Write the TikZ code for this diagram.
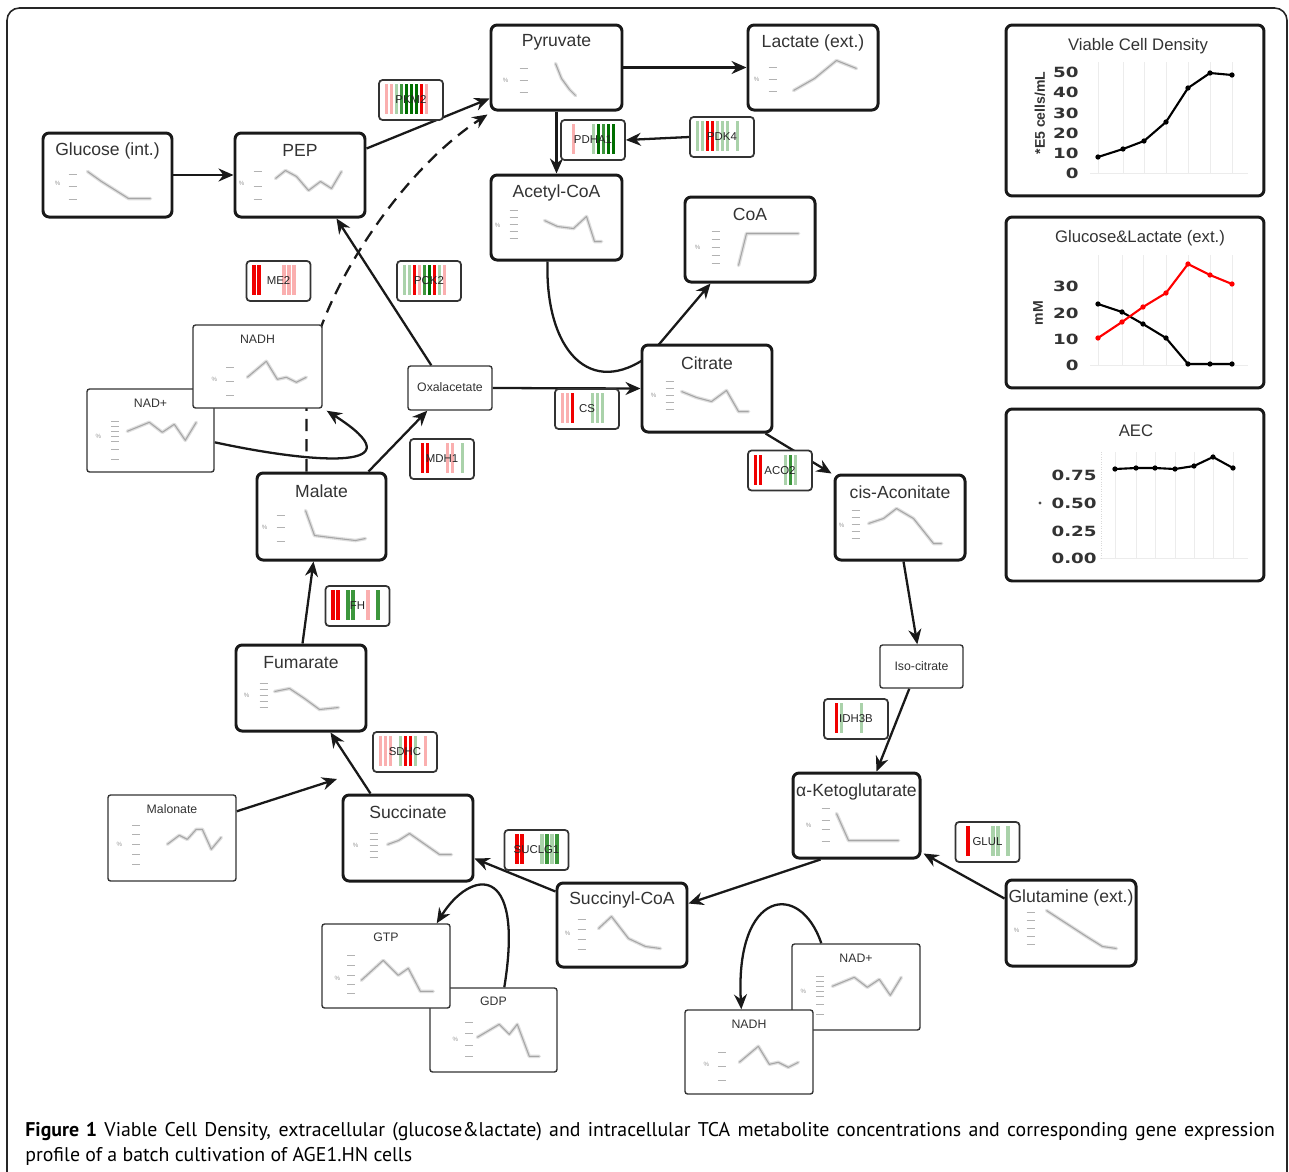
\documentclass[tikz,border=0pt]{standalone}
\usepackage{fontspec}
\setmainfont{Liberation Sans}
\newfontfamily\capfont{PT Sans}
\newfontfamily\numfont{DejaVu Sans}
\usepackage{graphicx}
\usetikzlibrary{arrows.meta,calc}
\pgfdeclarelayer{bgl}
\pgfdeclarelayer{edges}
\pgfsetlayers{bgl,edges,main}
\definecolor{rd}{RGB}{240,0,0}
\definecolor{lr}{RGB}{250,175,175}
\definecolor{dg}{RGB}{0,110,0}
\definecolor{gn}{RGB}{60,150,60}
\definecolor{lg}{RGB}{170,210,170}
\colorlet{wt}{white}
\tikzset{
  metab/.style={draw=black!90, line width=1.7pt, rounded corners=3.5pt, fill=white, inner sep=0pt},
  thin/.style={draw=black!80, line width=0.8pt, rounded corners=1.5pt, fill=white, inner sep=0pt},
  metabttl/.style={font=\fontsize{10}{12}\selectfont, text=black!80, inner sep=0pt},
  thinttl/.style={font=\fontsize{7}{8}\selectfont, text=black!80, inner sep=0pt},
  genebox/.style={draw=black!80, line width=1pt, rounded corners=2pt, fill=white, minimum width=1.28cm, minimum height=0.8cm, inner sep=0pt},
  genelbl/.style={font=\fontsize{6.5}{7}\selectfont, text=black!85, inner sep=0pt},
  conn/.style={line width=1.3pt, draw=black!90, -{Stealth[length=3mm,width=2.6mm]}},
  dconn/.style={conn, dash pattern=on 7pt off 4.5pt},
  sband/.style={gray!25, line width=2pt, line join=round, line cap=round},
  sline/.style={gray!70, line width=0.6pt, line join=round},
  stick/.style={gray!60, line width=0.7pt},
  pct/.style={font=\fontsize{3.5}{4}\selectfont, text=gray!80, inner sep=0pt},
  charttl/.style={font=\fontsize{9.5}{11}\selectfont, text=black!80, inner sep=0pt},
  numlbl/.style={font=\numfont\bfseries\fontsize{8}{9}\selectfont, text=black!80, inner sep=0pt},
  ylbl/.style={font=\bfseries\fontsize{8}{9}\selectfont, text=black!80, inner sep=0pt},
  gridl/.style={gray!15, line width=0.5pt},
  dat/.style={line width=1.2pt, line join=round},
}
\newcommand\metnode[7]{%
  \node[#1, minimum width=#4*0.02cm, minimum height=#5*0.02cm] (#2) at (#3) {};
  \node[#1ttl] (#2-t) at ($(#2.north)+(0,#7)$) {#6};}
\newcommand\sparkl[5]{%
  \begin{scope}[shift={(#1.north west)}]
    \draw[sband] #2;
    \draw[sline] #2;
    \foreach \t in {#4} \draw[stick] (#3,\t) -- ++(8,0);
    \node[pct] (#1-pct) at (#5) {\%};
  \end{scope}}
\newcommand\genenode[4]{%
  \node[genebox] (#1) at (#2) {};
  \begin{scope}[shift={(#1.north west)}]
    \foreach \c [count=\i] in {#4} \fill[\c] ({1.5+5*\i},5) rectangle ({5+5*\i},35);
  \end{scope}
  \node[genelbl] (#1-t) at (#1) {#3};}

\begin{document}
\begin{tikzpicture}[x=0.02cm,y=-0.02cm]
\useasboundingbox (0,0) rectangle (1289,1171);
\begin{pgfonlayer}{bgl}
  \fill[white] (0,0) rectangle (1289,1171);
  \begin{scope}
    \clip (0,0) rectangle (1289,1171);
    \draw[black!85, line width=0.9pt, rounded corners=7pt] (7,8) rectangle (1287,1260);
  \end{scope}
\end{pgfonlayer}

% metabolites
\metnode{metab}{glc}{107.5,175}{129}{84}{Glucose (int.)}{19}
\sparkl{glc}{(46,40) -- (60,50) -- (87,67) -- (109,67)}{27}{43,55,68}{16,52}
\metnode{metab}{pep}{300,175}{130}{84}{PEP}{19}
\sparkl{pep}{(42,47) -- (52,39) -- (63,45) -- (75,59) -- (87,50) -- (98,57) -- (108,40)}{20}{40,55,68}{8,52}
\metnode{metab}{pyr}{556.5,67.5}{131}{85}{Pyruvate}{19}
\sparkl{pyr}{(66,40) -- (72,55) -- (80,66) -- (86,72)}{30}{45,57,69}{16,57}
\metnode{metab}{lac}{813,67.5}{130}{85}{Lactate (ext.)}{19}
\sparkl{lac}{(47,67) -- (68,55) -- (90,37) -- (110,45)}{22}{44,56,68}{10,56}
\metnode{metab}{acoa}{556.5,217.5}{131}{85}{Acetyl-CoA}{19}
\sparkl{acoa}{(55,47) -- (68,53) -- (84,55) -- (97,43) -- (105,68) -- (112,68)}{20}{37,44,51,58,65}{8,52}
\metnode{metab}{coa}{750,239.5}{130}{85}{CoA}{19}
\sparkl{coa}{(55,70) -- (63,38) -- (115,38)}{28}{36,44,52,60,68}{14,52}
\metnode{metab}{cit}{707,388.5}{130}{87}{Citrate}{20}
\sparkl{cit}{(41,48) -- (56,54) -- (71,58) -- (86,47) -- (98,68) -- (108,68)}{25}{38,45,52,59,66}{13,52}
\metnode{metab}{cis}{900,517.5}{130}{85}{cis-Aconitate}{19}
\sparkl{cis}{(35,50) -- (50,45) -- (63,35) -- (80,45) -- (100,70) -- (108,70)}{18}{37,44,51,58,65}{8,52}
\metnode{thin}{isocit}{921.5,666.5}{83}{43}{Iso-citrate}{21.5}
\metnode{metab}{akg}{856.5,815.5}{127}{85}{α-Ketoglutarate}{20}
\sparkl{akg}{(45,42) -- (57,69) -- (107,69)}{30}{37,49,58,70}{17,54}
\metnode{metab}{gln}{1071,923}{130}{86}{Glutamine (ext.)}{19}
\sparkl{gln}{(42,32) -- (62,45) -- (82,58) -- (98,68) -- (112,70)}{22}{34,42,50,58,66}{12,52}
\metnode{metab}{scoa}{622,925}{130}{84}{Succinyl-CoA}{18}
\sparkl{scoa}{(43,47) -- (56,35) -- (73,57) -- (90,65) -- (105,67)}{22}{38,48,58,68}{12,52}
\metnode{metab}{suc}{408,838}{130}{86}{Succinate}{19}
\sparkl{suc}{(46,51) -- (57,47) -- (68,40) -- (98,61) -- (110,61)}{28}{40,46,52,58,64}{14,52}
\metnode{metab}{fum}{301,688}{130}{86}{Fumarate}{19}
\sparkl{fum}{(40,48) -- (55,45) -- (70,55) -- (85,66) -- (104,64)}{25}{40,46,52,58,64}{12,52}
\metnode{metab}{mal}{321.5,516.5}{129}{87}{Malate}{20}
\sparkl{mal}{(50,39) -- (59,64) -- (83,67) -- (100,69) -- (110,67)}{21}{44,56,70}{9,56}
\metnode{thin}{oaa}{450,388}{84}{44}{Oxalacetate}{22}
\metnode{thin}{nad1}{150.5,430.5}{127}{83}{NAD+}{15}
\sparkl{nad1}{(41,43) -- (63,34) -- (76,44) -- (88,36) -- (99,52) -- (110,34)}{25}{33,38,43,48,53,61,71}{12,48}
\metnode{thin}{nadh1}{257.5,366.5}{129}{83}{NADH}{15}
\sparkl{nadh1}{(55,53) -- (74,37) -- (85,55) -- (94,53) -- (104,58) -- (114,53)}{34}{43,57,71}{22,55}
\metnode{thin}{malo}{172,838}{128}{86}{Malonate}{15}
\sparkl{malo}{(60,50) -- (72,41) -- (80,45) -- (89,35) -- (95,35) -- (104,55) -- (114,43)}{25}{31,40,50,60,70}{12,50}
\metnode{thin}{gdp}{493.5,1030}{127}{84}{GDP}{14}
\sparkl{gdp}{(48,50) -- (70,37) -- (80,47) -- (88,37) -- (100,69) -- (110,69)}{36}{35,46,58,69}{26,52}
\metnode{thin}{gtp}{386,966}{128}{84}{GTP}{14}
\sparkl{gtp}{(40,57) -- (62,37) -- (77,52) -- (87,45) -- (99,68) -- (112,68)}{26}{32,42,52,61,70}{16,55}
\metnode{thin}{nad2}{856,987}{128}{86}{NAD+}{15}
\sparkl{nad2}{(41,43) -- (63,34) -- (76,44) -- (88,36) -- (99,52) -- (110,34)}{25}{33,38,43,48,53,61,71}{12,48}
\metnode{thin}{nadh2}{749,1052}{128}{84}{NADH}{15}
\sparkl{nadh2}{(55,53) -- (74,37) -- (85,55) -- (94,53) -- (104,58) -- (114,53)}{34}{43,57,71}{22,55}

% gene expression boxes
\genenode{pkmA}{411,100}{PKM2}{lr,lr,lg,gn,dg,dg,dg,rd,lr,wt}
\genenode{pdha}{593,140}{PDHA1}{wt,lr,wt,wt,wt,lg,dg,gn,dg,dg}
\genenode{pdk4}{722,137}{PDK4}{lg,lg,rd,rd,lg,lg,lg,wt,lg,wt}
\genenode{me2}{278.5,281}{ME2}{rd,rd,wt,wt,wt,wt,lr,lr,lr,wt}
\genenode{pck2}{429,281}{PCK2}{lg,lg,rd,lr,gn,dg,rd,lg,lr,wt}
\genenode{cs}{587,409}{CS}{lr,lr,rd,wt,wt,wt,lg,lg,lg,wt}
\genenode{mdh1}{442,459}{MDH1}{wt,rd,rd,wt,wt,wt,lr,lr,wt,lg}
\genenode{aco2}{780,470.5}{ACO2}{rd,rd,wt,wt,wt,wt,lg,gn,lg,wt}
\genenode{fh}{357.5,606}{FH}{rd,rd,wt,gn,gn,wt,wt,lr,wt,gn}
\genenode{sdhc}{405,752}{SDHC}{lr,lr,lr,wt,lg,rd,rd,lg,wt,lr}
\genenode{idh3b}{856,719}{IDH3B}{wt,rd,lg,wt,wt,wt,lg,wt,wt,wt}
\genenode{glul}{987.5,842}{GLUL}{wt,rd,wt,wt,wt,wt,lg,lg,wt,lg}
\genenode{suclg1}{536.5,850}{SUCLG1}{wt,rd,rd,wt,wt,wt,lg,gn,lg,gn}

% chart 1: viable cell density
\node[metab, minimum width=5.16cm, minimum height=3.42cm] (vcd) at (1135,110.5) {};
\node[charttl] (vcd-t) at (1138,46) {Viable Cell Density};
\foreach \x in {1098,1123,1144,1166,1188,1210,1232} \draw[gridl] (\x,62) -- (\x,173);
\draw[gridl] (1090,173) -- (1248,173);
\foreach \v/\y in {50/72,40/92,30/113,20/133,10/153,0/173}
  \node[numlbl, anchor=east] (vcd-\v) at (1079,\y) {\scalebox{1.3}[1]{\v}};
\node[ylbl, rotate=90] (vcd-y) at (1040,113) {*E5 cells/mL};
\draw[dat] (1098,157) -- (1123,149) -- (1144,141) -- (1166,122) -- (1188,88) -- (1210,73) -- (1232,75);
\foreach \p in {(1098,157),(1123,149),(1144,141),(1166,122),(1188,88),(1210,73),(1232,75)} \fill \p circle (1.5pt);

% chart 2: glucose & lactate
\node[metab, minimum width=5.16cm, minimum height=3.42cm] (gl) at (1135,302.5) {};
\node[charttl] (gl-t) at (1140,238) {Glucose\&Lactate (ext.)};
\foreach \x in {1098,1122,1143,1166,1188,1210,1232} \draw[gridl] (\x,255) -- (\x,365);
\draw[gridl] (1090,365) -- (1248,365);
\foreach \v/\y in {30/286,20/313,10/339,0/365}
  \node[numlbl, anchor=east] (gl-\v) at (1079,\y) {\scalebox{1.3}[1]{\v}};
\node[ylbl, rotate=90] (gl-y) at (1038,313) {mM};
\draw[dat] (1098,304) -- (1122,312) -- (1143,324) -- (1166,338) -- (1188,364) -- (1210,364) -- (1232,364);
\foreach \p in {(1098,304),(1122,312),(1143,324),(1166,338),(1188,364),(1210,364),(1232,364)} \fill \p circle (1.5pt);
\draw[dat, red] (1098,338) -- (1122,322) -- (1143,307) -- (1166,293) -- (1188,264) -- (1210,275) -- (1232,284);
\foreach \p in {(1098,338),(1122,322),(1143,307),(1166,293),(1188,264),(1210,275),(1232,284)} \fill[red] \p circle (1.5pt);

% chart 3: AEC
\node[metab, minimum width=5.16cm, minimum height=3.44cm] (aec) at (1135,495) {};
\node[charttl] (aec-t) at (1136,431) {AEC};
\foreach \x in {1115,1136,1155,1175,1194,1213,1233} \draw[gridl] (\x,452) -- (\x,558);
\draw[gridl] (1100,558) -- (1248,558);
\draw[gray!30, densely dotted] (1101,452) -- (1101,558);
\foreach \v/\y [count=\k] in {0.75/475,0.50/503,0.25/531,0.00/558}
  \node[numlbl, anchor=east] (aec-\k) at (1097,\y) {\scalebox{1.3}[1]{\v}};
\fill[black!70] (1040,503) circle (0.9pt);
\draw[dat] (1115,469) -- (1136,468) -- (1155,468) -- (1175,469) -- (1194,466) -- (1213,457) -- (1233,468);
\foreach \p in {(1115,469),(1136,468),(1155,468),(1175,469),(1194,466),(1213,457),(1233,468)} \fill \p circle (1.5pt);

% connectors
\begin{pgfonlayer}{edges}
\draw[conn] (glc.east) -- (pep.west);
\draw[conn] ($(pep.north east)+(0,17)$) -- ($(pyr.south west)+(0,-13)$);
\draw[dconn] ($(mal.north west)+(51,0)$) -- ++(0,-70) -- (320,330) .. controls (345,260) and (410,165) .. ($(pyr.south west)+(-2,3)$);
\draw[conn] ($(oaa.north west)+(24,0)$) -- ($(pep.south east)+(-30,0)$);
\draw[conn] (pyr.east) -- (lac.west);
\draw[conn] (pyr.south) -- (acoa.north);
\draw[conn] (pdk4.west) -- (pdha.east);
\draw[conn] ($(acoa.south west)+(58,0)$) .. controls (545,350) and (590,400) .. (650,355) -- ($(coa.south west)+(27,0)$);
\draw[conn] (oaa.east) -- (cit.west);
\draw[conn] ($(cit.south east)+(-8,0)$) -- ($(cis.north west)+(-2,0)$);
\draw[conn] ($(cis.south west)+(70,0)$) -- ($(isocit.north west)+(38,0)$);
\draw[conn] ($(isocit.south west)+(30,0)$) -- ($(akg.north west)+(85,0)$);
\draw[conn] ($(gln.north west)+(0,20)$) -- ($(akg.south east)+(2,-6)$);
\draw[conn] ($(akg.south west)+(29,0)$) -- ($(scoa.north east)+(0,22)$);
\draw[conn] ($(scoa.north west)+(0,10)$) -- ($(suc.south east)+(0,-24)$);
\draw[conn] ($(suc.north west)+(29,0)$) -- ($(fum.south west)+(96,0)$);
\coordinate (inh) at (337,779);
\draw[conn] ($(malo.north east)+(0,17)$) -- (inh);
\draw[conn] ($(fum.north west)+(68,0)$) -- ($(mal.south west)+(58,0)$);
\draw[conn] ($(mal.north west)+(113,0)$) -- ($(oaa.south west)+(20,0)$);
\draw[conn] ($(nad1.north east)+(0,54)$) .. controls (320,465) and (420,470) .. ($(nadh1.south east)+(4,2)$);
\draw[conn] ($(gdp.north west)+(75,0)$) .. controls (525,860) and (470,870) .. ($(gtp.north east)+(-14,0)$);
\draw[conn] ($(nad2.north west)+(30,0)$) .. controls (800,880) and (735,890) .. ($(nadh2.north west)+(57,0)$);
\end{pgfonlayer}

% caption
\node[anchor=base west, inner sep=0pt] (cap1) at (25,1136) {\capfont\fontsize{11.3}{13}\selectfont\makebox[25cm][s]{\textbf{Figure 1} Viable Cell Density, extracellular (glucose\&lactate) and intracellular TCA metabolite concentrations and corresponding gene expression}};
\node[anchor=base west, inner sep=0pt] (cap2) at (25,1161) {\capfont\fontsize{11.3}{13}\selectfont profile of a batch cultivation of AGE1.HN cells};
\end{tikzpicture}
\end{document}
